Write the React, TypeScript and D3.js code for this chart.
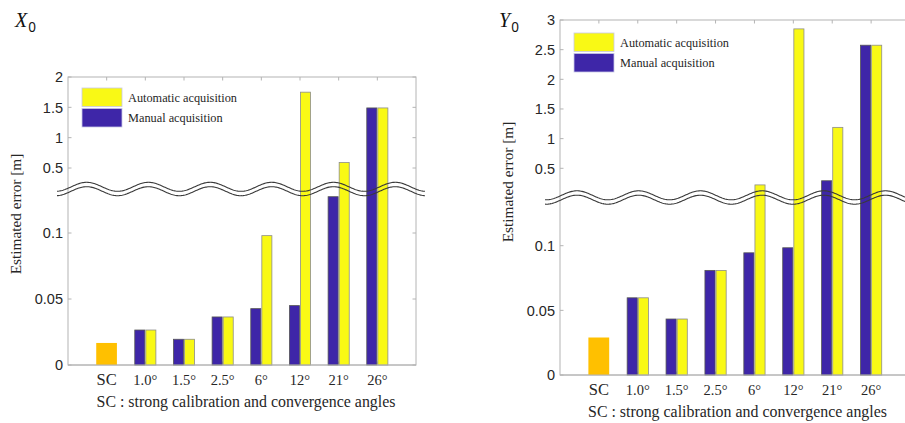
import React from "react";
import * as d3 from "d3";

// ---------- data ----------
const angleLabels = ["1.0°", "1.5°", "2.5°", "6°", "12°", "21°", "26°"];
const scLabel = "SC";

const scX0 = 0.0167;
const manualX0 = [0.0265, 0.0195, 0.0364, 0.0427, 0.045, 0.1275, 1.49];
const autoX0 = [0.0265, 0.0195, 0.0364, 0.098, 1.75, 0.59, 1.49];

const scY0 = 0.029;
const manualY0 = [0.0597, 0.0433, 0.0809, 0.0945, 0.0984, 0.29, 2.575];
const autoY0 = [0.0597, 0.0433, 0.0809, 0.22, 2.85, 1.19, 2.575];

const lowerTicks = [0, 0.05, 0.1];
const upperTicksX0 = [0.5, 1, 1.5, 2];
const upperTicksY0 = [0.5, 1, 1.5, 2, 2.5, 3];

const legendLabels = ["Automatic acquisition", "Manual acquisition"];
const xAxisTitle = "SC : strong calibration and convergence angles";
const yAxisTitle = "Estimated error [m]";

// ---------- styles ----------
const BLUE = "#3e26a8";
const YELLOW = "#f9f915";
const ORANGE = "#ffc000";
const AXIS = "#b4b4b4";
const TEXT = "#262626";
const SERIF = "'Liberation Serif', 'Times New Roman', serif";
const SANS = "'Liberation Sans', Arial, Helvetica, sans-serif";
const BREAK = 0.15;

type PanelCfg = {
  title: string;
  titleX: number;
  x0: number;
  x1: number;
  yBottom: number;
  yTop: number;
  lowerRange: [number, number];
  upperDomain: [number, number];
  upperRange: [number, number];
  upperTicks: number[];
  sc: number;
  manual: number[];
  auto: number[];
  waveY: number;
  waveX0: number;
  waveX1: number;
  waveCrest: number;
  legendX: number;
  legendY: number;
  yTitleX: number;
  yTitleY: number;
  xTitleX: number;
  labelX: number;
};

const panels: PanelCfg[] = [
  {
    title: "X",
    titleX: 15,
    x0: 68,
    x1: 416,
    yBottom: 365,
    yTop: 77,
    lowerRange: [365, 233],
    upperDomain: [0.5, 2],
    upperRange: [168, 77],
    upperTicks: upperTicksX0,
    sc: scX0,
    manual: manualX0,
    auto: autoX0,
    waveY: 189,
    waveX0: 57,
    waveX1: 425,
    waveCrest: 86.7,
    legendX: 82,
    legendY: 88,
    yTitleX: 16,
    yTitleY: 214,
    xTitleX: 246,
    labelX: 63,
  },
  {
    title: "Y",
    titleX: 499,
    x0: 560,
    x1: 910,
    yBottom: 375,
    yTop: 20,
    lowerRange: [375, 245.7],
    upperDomain: [0.5, 3],
    upperRange: [168.3, 20],
    upperTicks: upperTicksY0,
    sc: scY0,
    manual: manualY0,
    auto: autoY0,
    waveY: 197.5,
    waveX0: 545,
    waveX1: 910,
    waveCrest: 577,
    legendX: 574,
    legendY: 33,
    yTitleX: 508,
    yTitleY: 182,
    xTitleX: 737.5,
    labelX: 555,
  },
];

function Panel({ p }: { p: PanelCfg }) {
  const x = d3.scaleLinear().domain([0, 9]).range([p.x0, p.x1]);
  const lower = d3.scaleLinear().domain([0, 0.1]).range(p.lowerRange);
  const upper = d3.scaleLinear().domain(p.upperDomain).range(p.upperRange);
  const y = (v: number) => (v < BREAK ? lower(v) : upper(v));

  const slot = x(1) - x(0);
  const barW = slot * 0.26;
  const gap = slot * 0.013;

  const wavePath = (offset: number) => {
    const pts: [number, number][] = d3.range(p.waveX0, p.waveX1 + 0.5, 1).map((xx) => [
      xx,
      p.waveY + offset - 4.5 * Math.cos((2 * Math.PI * (xx - p.waveCrest)) / 61.7),
    ]);
    return d3.line()(pts) || "";
  };

  const allTicks = [
    ...lowerTicks.map((t) => ({ t, yy: lower(t) })),
    ...p.upperTicks.map((t) => ({ t, yy: upper(t) })),
  ];

  return (
    <g>
      {/* title */}
      <text x={p.titleX} y={26.5} fontFamily={SERIF} fontStyle="italic" fontSize={20} fill="#111">
        {p.title}
        <tspan fontFamily="'Noto Sans', sans-serif" fontStyle="normal" fontSize={13.5} dx={1} dy={5.5}>
          0
        </tspan>
      </text>

      {/* box */}
      <rect x={p.x0} y={p.yTop} width={p.x1 - p.x0} height={p.yBottom - p.yTop} fill="white" stroke={AXIS} strokeWidth={1} />

      {/* ticks */}
      {allTicks.map(({ t, yy }, i) => (
        <g key={"yt" + i}>
          <line x1={p.x0} x2={p.x0 + 3.5} y1={yy} y2={yy} stroke={AXIS} />
          <line x1={p.x1} x2={p.x1 - 3.5} y1={yy} y2={yy} stroke={AXIS} />
          <text x={p.labelX} y={yy} dy="0.36em" textAnchor="end" fontFamily={SANS} fontSize={14.5} fill={TEXT}>
            {String(t)}
          </text>
        </g>
      ))}
      {d3.range(1, 9).map((i) => (
        <g key={"xt" + i}>
          <line x1={x(i)} x2={x(i)} y1={p.yTop} y2={p.yTop + 3.5} stroke={AXIS} />
          <line x1={x(i)} x2={x(i)} y1={p.yBottom} y2={p.yBottom - 3.5} stroke={AXIS} />
        </g>
      ))}

      {/* SC bar */}
      <rect
        x={x(1) - slot * 0.27}
        y={y(p.sc)}
        width={slot * 0.535}
        height={p.yBottom - y(p.sc)}
        fill={ORANGE}
      />
      {/* grouped bars */}
      {angleLabels.map((_, i) => {
        const c = x(i + 2);
        const ym = y(p.manual[i]);
        const ya = y(p.auto[i]);
        return (
          <g key={"b" + i}>
            <rect x={c - gap - barW} y={ym} width={barW} height={p.yBottom - ym} fill={BLUE} stroke="#555" strokeWidth={0.8} />
            <rect x={c + gap} y={ya} width={barW} height={p.yBottom - ya} fill={YELLOW} stroke="#8c8c8c" strokeWidth={0.8} />
          </g>
        );
      })}

      {/* bottom axis redraw */}
      <line x1={p.x0} x2={p.x1} y1={p.yBottom} y2={p.yBottom} stroke={AXIS} />

      {/* x labels */}
      <text x={x(1)} y={p.yBottom + 14.5} dy="0.35em" textAnchor="middle" fontFamily={SERIF} fontSize={16.5} fill={TEXT}>
        {scLabel}
      </text>
      {angleLabels.map((l, i) => (
        <text key={"xl" + i} x={x(i + 2)} y={p.yBottom + 14.5} dy="0.35em" textAnchor="middle" fontFamily={SERIF} fontSize={14.5} fill={TEXT}>
          {l}
        </text>
      ))}
      <text x={p.xTitleX} y={p.yBottom + 36} dy="0.35em" textAnchor="middle" fontFamily={SERIF} fontSize={15.9} fill={TEXT}>
        {xAxisTitle}
      </text>
      <text
        transform={`translate(${p.yTitleX},${p.yTitleY}) rotate(-90)`}
        dy="0.35em"
        textAnchor="middle"
        fontFamily={SERIF}
        fontSize={15.3}
        fill={TEXT}
      >
        {yAxisTitle}
      </text>

      {/* legend */}
      <rect x={p.legendX} y={p.legendY} width={40} height={18.5} fill={YELLOW} stroke="#c8c8e6" strokeWidth={0.8} />
      <rect x={p.legendX} y={p.legendY + 20.5} width={40} height={18.5} fill={BLUE} stroke="#c8c8e6" strokeWidth={0.8} />
      {legendLabels.map((l, i) => (
        <text key={"lg" + i} x={p.legendX + 46} y={p.legendY + 9.5 + i * 20.5} dy="0.35em" fontFamily={SERIF} fontSize={12.3} fill={TEXT}>
          {l}
        </text>
      ))}

      {/* break wave */}
      <path d={wavePath(-2.2)} fill="none" stroke="#3a3a3a" strokeWidth={1.1} />
      <path d={wavePath(2.2)} fill="none" stroke="#3a3a3a" strokeWidth={1.1} />
    </g>
  );
}

export default function App() {
  return (
    <svg
      width={905}
      height={423}
      viewBox="0 0 905 423"
      style={{ position: "absolute", left: 0, top: 0, background: "white" }}
    >
      <rect width={905} height={423} fill="white" />
      {panels.map((p, i) => (
        <Panel key={i} p={p} />
      ))}
    </svg>
  );
}
